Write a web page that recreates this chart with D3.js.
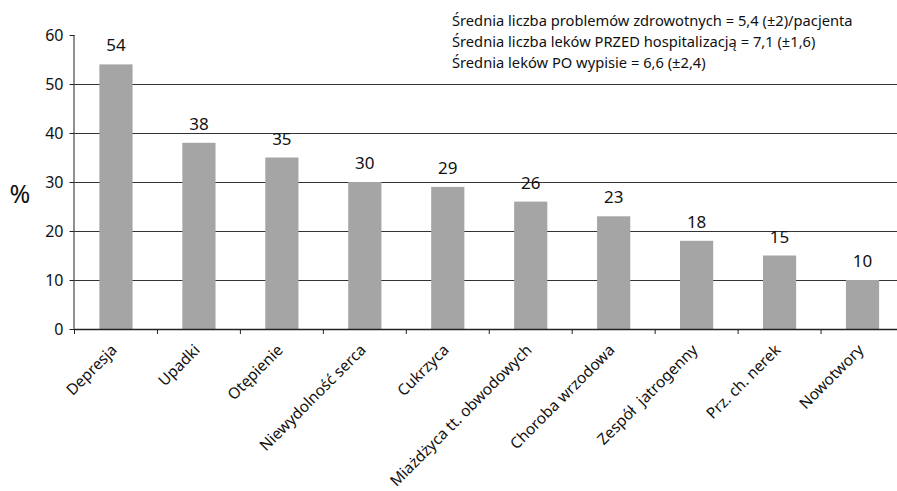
<!DOCTYPE html>
<html>
<head>
<meta charset="utf-8">
<script src="https://cdn.jsdelivr.net/npm/d3@7"></script>
<style>
  html, body { margin: 0; padding: 0; background: #fff; }
  svg { display: block; }
  text { font-family: "Noto Sans", "Open Sans", sans-serif; fill: #111; white-space: pre; }
</style>
</head>
<body>
<svg id="chart" width="897" height="491"></svg>
<script>
// Prevalence of health problems among patients (%)
const categories = [
  "Depresja", "Upadki", "Otępienie", "Niewydolność serca", "Cukrzyca",
  "Miażdżyca tt. obwodowych", "Choroba wrzodowa", "Zespół  jatrogenny",
  "Prz. ch. nerek", "Nowotwory"
];
const values = [54, 38, 35, 30, 29, 26, 23, 18, 15, 10];
const yTicks = [0, 10, 20, 30, 40, 50, 60];
const notes = [
  "Średnia liczba problemów zdrowotnych = 5,4 (±2)/pacjenta",
  "Średnia liczba leków PRZED hospitalizacją = 7,1 (±1,6)",
  "Średnia leków PO wypisie = 6,6 (±2,4)"
];

const svg = d3.select("#chart");
const margin = { left: 74.5, right: -7, top: 35, bottom: 162 };
const W = 897, H = 491;

const x = d3.scaleBand()
  .domain(categories)
  .range([margin.left, W - margin.right])
  .paddingInner(0.6)
  .paddingOuter(0.3);

const xTick = d3.scaleBand()
  .domain(categories)
  .range([margin.left, W - margin.right]);

const y = d3.scaleLinear()
  .domain([0, 60])
  .range([H - margin.bottom, margin.top]);

// horizontal gridlines
svg.append("g")
  .selectAll("line")
  .data(yTicks.filter(d => d > 0 && d < 60))
  .join("line")
  .attr("x1", margin.left)
  .attr("x2", W)
  .attr("y1", d => Math.round(y(d)) + 0.5)
  .attr("y2", d => Math.round(y(d)) + 0.5)
  .attr("stroke", "#333")
  .attr("stroke-width", 1);

// bars
svg.append("g")
  .selectAll("rect")
  .data(values)
  .join("rect")
  .attr("x", (d, i) => x(categories[i]))
  .attr("width", x.bandwidth())
  .attr("y", d => y(d))
  .attr("height", d => y(0) - y(d))
  .attr("fill", "#a5a5a5");

// value labels
svg.append("g")
  .selectAll("text")
  .data(values)
  .join("text")
  .attr("x", (d, i) => x(categories[i]) + x.bandwidth() / 2)
  .attr("y", d => y(d) - 13)
  .attr("text-anchor", "middle")
  .attr("font-size", 17)
  .text(d => d);

// y axis
const yAxis = svg.append("g")
  .attr("transform", `translate(${margin.left},0)`)
  .call(d3.axisLeft(y).tickValues(yTicks).tickSize(5).tickPadding(6));
yAxis.select(".domain").attr("stroke", "#222").attr("d", `M-0.5,${y(0)}V${y(60)}`);
yAxis.selectAll(".tick line").attr("stroke", "#222");
yAxis.selectAll(".tick text")
  .attr("font-size", 16)
  .attr("font-family", "'Noto Sans', sans-serif")
  .attr("fill", "#111");

// x axis
const xAxis = svg.append("g")
  .attr("transform", `translate(0,${y(0)})`)
  .call(d3.axisBottom(xTick).tickSize(0).tickFormat(""));
xAxis.select(".domain").attr("stroke", "#222").attr("stroke-width", 1.5);
xAxis.selectAll(".tick").remove();

// boundary ticks between categories
svg.append("g")
  .selectAll("line")
  .data(categories)
  .join("line")
  .attr("x1", d => xTick(d))
  .attr("x2", d => xTick(d))
  .attr("y1", y(0))
  .attr("y2", y(0) + 5)
  .attr("stroke", "#222");

// rotated category labels
svg.append("g")
  .selectAll("text")
  .data(categories)
  .join("text")
  .attr("transform", d => `translate(${xTick(d) + xTick.bandwidth() / 2 + 2},${y(0) + 22}) rotate(-45)`)
  .attr("text-anchor", "end")
  .attr("font-size", 15.4)
  .attr("xml:space", "preserve")
  .text(d => d);

// y axis unit
svg.append("text")
  .attr("x", 20)
  .attr("y", 203)
  .attr("text-anchor", "middle")
  .attr("font-size", 25)
  .text("%");

// summary notes
svg.append("g")
  .selectAll("text")
  .data(notes)
  .join("text")
  .attr("x", 452)
  .attr("y", (d, i) => 26 + i * 21)
  .attr("font-size", 14.7)
  .text(d => d);
</script>
</body>
</html>
